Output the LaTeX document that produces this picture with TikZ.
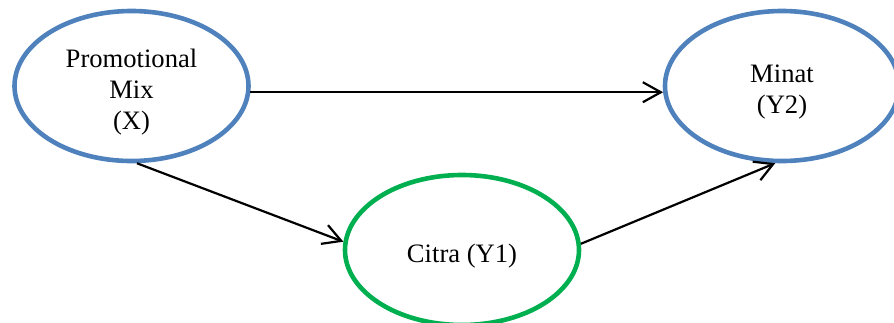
\documentclass[tikz,border=0pt]{standalone}
\usepackage{fontspec}
\setmainfont{Liberation Serif}
\usetikzlibrary{shapes.geometric,arrows.meta}
\definecolor{varBlue}{RGB}{79, 129, 189}
\definecolor{varGreen}{RGB}{0, 176, 80}

\begin{document}
\begin{tikzpicture}[x=0.5pt, y=-0.5pt,
  var/.style={ellipse, draw=varBlue, line width=2.3pt, minimum width=117pt,
    minimum height=75pt, inner sep=0pt,
    label={[align=center, inner sep=0pt, yshift=-3pt,
      font=\fontsize{13.3}{15.6}\selectfont]center:#1}},
  link/.style={-{Straight Barb[length=9pt, width=10pt]}, line width=1.1pt}]
\useasboundingbox (0,0) rectangle (894,322);
% Variables
\node[var={Promotional\\Mix\\(X)}] (x) at (131.5,86) {};
\node[var={Minat\\(Y2)}] (y2) at (782,86) {};
\node[var={Citra (Y1)}, draw=varGreen] (y1) at (462,250) {};

% Paths
\draw[link] (x.-3) -- (y2.183);
\draw[link] (x.-86) -- (y1.176);
\draw[link] (y1.3) -- (y2.265);
\end{tikzpicture}
\end{document}
